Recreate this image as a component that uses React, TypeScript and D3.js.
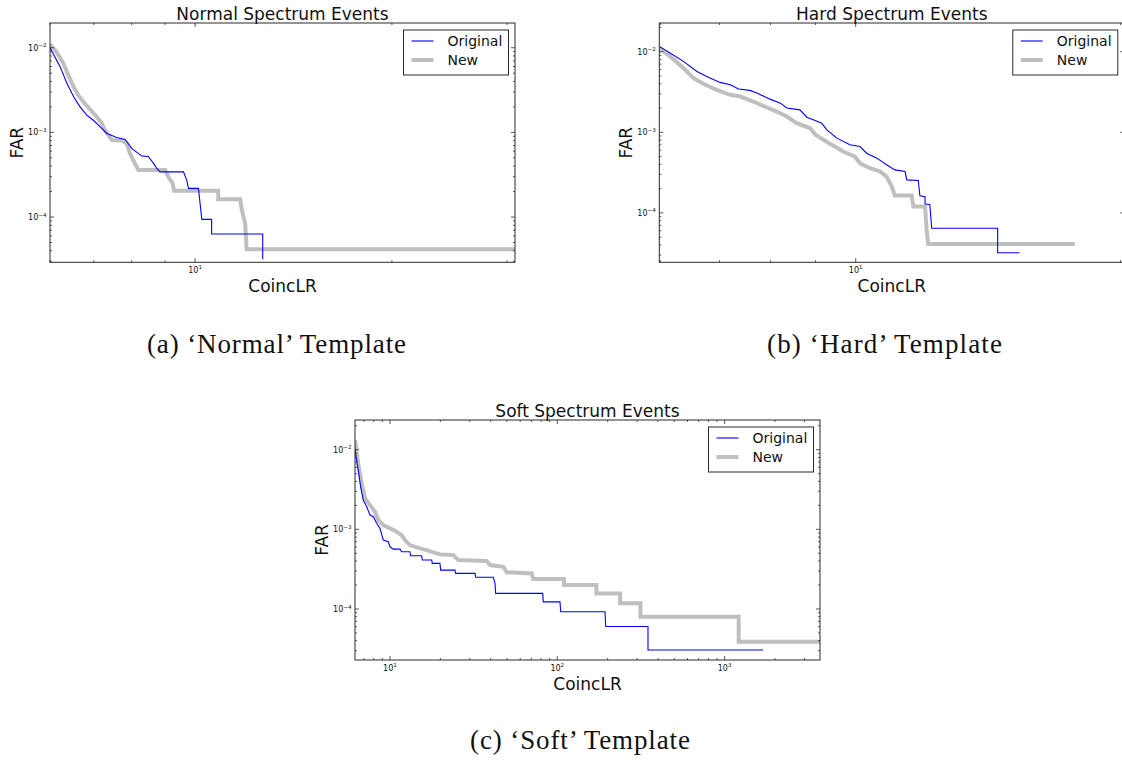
import React from "react";
import * as d3 from "d3";

// ---------- Data (CoincLR threshold vs FAR) ----------
// (a) Normal spectrum
const normalOriginalX = [6.00, 6.22, 6.37, 6.52, 6.67, 6.83, 6.99, 7.16, 7.33, 7.59, 7.82, 8.00, 8.29, 8.48, 8.64, 8.74, 8.84, 9.60, 9.71, 9.77, 10.12, 10.24, 10.60, 10.60, 12.69, 12.69];
const normalOriginalY = [0.0100, 0.00594, 0.00378, 0.00263, 0.00200, 0.00160, 0.00139, 0.00116, 0.000972, 0.000872, 0.000826, 0.000647, 0.000525, 0.000520, 0.000430, 0.000375, 0.000342, 0.000342, 0.000273, 0.000218, 0.000218, 0.0000939, 0.0000939, 0.0000630, 0.0000630, 0.0000317];
const normalNewX = [6.00, 6.14, 6.29, 6.40, 6.52, 6.63, 6.75, 6.91, 7.07, 7.20, 7.28, 7.46, 7.73, 7.86, 7.95, 8.09, 8.19, 9.00, 9.10, 9.24, 9.29, 10.85, 10.85, 11.72, 11.79, 11.93, 11.99, 30.85];
const normalNewY = [0.0110, 0.00892, 0.00651, 0.00474, 0.00345, 0.00275, 0.00229, 0.00187, 0.00153, 0.00128, 0.00106, 0.000811, 0.000800, 0.000741, 0.000564, 0.000430, 0.000359, 0.000359, 0.000299, 0.000250, 0.000204, 0.000204, 0.000162, 0.000162, 0.000121, 0.0000842, 0.0000416, 0.0000416];

// (b) Hard spectrum
const hardOriginalX = [5.98, 6.15, 6.37, 6.60, 6.77, 7.01, 7.20, 7.36, 7.58, 7.72, 7.99, 8.21, 8.35, 8.64, 8.80, 8.95, 9.15, 9.27, 9.52, 9.85, 10.11, 10.29, 10.57, 10.84, 11.08, 11.38, 11.43, 11.78, 11.83, 11.99, 11.99, 12.14, 12.20, 14.50, 14.50, 15.35];
const hardOriginalY = [0.01164, 0.00964, 0.00758, 0.00569, 0.00493, 0.00416, 0.00389, 0.00344, 0.00331, 0.00307, 0.00258, 0.00230, 0.00200, 0.00190, 0.00154, 0.00143, 0.00130, 0.00107, 0.000847, 0.000699, 0.000666, 0.000551, 0.000478, 0.000395, 0.000342, 0.000326, 0.000257, 0.000252, 0.000163, 0.000159, 0.000129, 0.000127, 0.0000646, 0.0000646, 0.0000321, 0.0000321];
const hardNewX = [5.98, 6.15, 6.37, 6.54, 6.71, 6.95, 7.20, 7.39, 7.65, 7.85, 8.13, 8.35, 8.57, 8.87, 9.00, 9.19, 9.39, 9.68, 9.98, 10.11, 10.38, 10.66, 10.84, 10.99, 11.08, 11.58, 11.63, 11.99, 12.04, 12.09, 17.75];
const hardNewY = [0.0111, 0.00874, 0.00627, 0.00471, 0.00400, 0.00337, 0.00292, 0.00278, 0.00241, 0.00213, 0.00181, 0.00157, 0.00130, 0.00113, 0.000931, 0.000807, 0.000699, 0.000577, 0.000500, 0.000414, 0.000359, 0.000326, 0.000282, 0.000212, 0.000164, 0.000164, 0.000120, 0.000120, 0.0000615, 0.0000412, 0.0000412];

// (c) Soft spectrum
const softOriginalX = [6.18, 6.46, 6.68, 6.92, 7.26, 7.60, 7.95, 8.33, 8.71, 9.12, 9.77, 10.0, 10.46, 11.48, 11.75, 13.16, 13.29, 15.47, 15.60, 17.76, 17.90, 19.90, 20.09, 24.46, 24.70, 32.22, 32.53, 41.45, 42.43, 42.84, 81.8, 82.5, 103.8, 104.8, 192.8, 194.7, 348.4, 348.4, 1696];
const softOriginalY = [0.0100, 0.00553, 0.00342, 0.00233, 0.00192, 0.00151, 0.00144, 0.00119, 0.00103, 0.000733, 0.000698, 0.000604, 0.000565, 0.000565, 0.000523, 0.000523, 0.000466, 0.000466, 0.000412, 0.000412, 0.000374, 0.000374, 0.000308, 0.000308, 0.000280, 0.000280, 0.000250, 0.000250, 0.000210, 0.000157, 0.000157, 0.000123, 0.000123, 0.0000925, 0.0000925, 0.0000603, 0.0000603, 0.0000306, 0.0000306];
const softNewX = [6.18, 6.46, 6.77, 7.09, 7.60, 8.14, 8.51, 9.12, 10.0, 10.96, 11.75, 12.29, 13.16, 15.11, 16.57, 17.76, 19.90, 23.89, 25.60, 37.84, 39.61, 47.56, 49.83, 70.3, 71.9, 109.6, 109.6, 171.3, 171.3, 237.4, 237.4, 313.9, 313.9, 1214, 1214, 3716];
const softNewY = [0.01316, 0.00671, 0.00377, 0.00244, 0.00201, 0.00166, 0.00131, 0.00113, 0.00103, 0.000932, 0.000847, 0.000733, 0.000635, 0.000577, 0.000549, 0.000523, 0.000485, 0.000475, 0.000412, 0.000400, 0.000356, 0.000339, 0.000289, 0.000280, 0.000238, 0.000238, 0.000200, 0.000200, 0.000157, 0.000157, 0.000118, 0.000118, 0.0000800, 0.0000800, 0.0000389, 0.0000389];

// Axis domains
const normalXDomain = [6.0, 30.85];
const normalYDomain = [2.92e-5, 0.0196];
const hardXDomain = [5.98, 20.2];
const hardYDomain = [2.44e-5, 0.0227];
const softXDomain = [6.18, 3716];
const softYDomain = [2.29e-5, 0.0236];

const titles = ["Normal Spectrum Events", "Hard Spectrum Events", "Soft Spectrum Events"];
const captions = ["(a) \u2018Normal\u2019 Template", "(b) \u2018Hard\u2019 Template", "(c) \u2018Soft\u2019 Template"];
const seriesNames = ["Original", "New"];
const xLabel = "CoincLR";
const yLabel = "FAR";

const SANS = "'DejaVu Sans', sans-serif";
const SERIF = "'Liberation Serif', 'DejaVu Serif', serif";
const BLUE = "#0000ff";
const GRAY = "#bfbfbf";
const AXC = "#2b2b2b";

type PanelDef = {
  id: string;
  left: number; top: number; width: number; height: number;
  xDomain: number[]; yDomain: number[];
  title: string; caption: string; capX: number; capY: number; capW: number;
  orig: [number[], number[]]; neu: [number[], number[]];
};

function ticksFor(domain: number[]) {
  const [a, b] = domain;
  const out: { v: number; major: boolean; exp: number }[] = [];
  for (let k = Math.floor(Math.log10(a)); k <= Math.ceil(Math.log10(b)); k++) {
    for (let m = 1; m <= 9; m++) {
      const v = m * Math.pow(10, k);
      if (v >= a * 0.9999 && v <= b * 1.0001) out.push({ v, major: m === 1, exp: k });
    }
  }
  return out;
}

function expStr(k: number) {
  return k < 0 ? "\u2212" + String(-k) : String(k);
}

function Panel({ p }: { p: PanelDef }) {
  const x = d3.scaleLog().domain(p.xDomain).range([p.left, p.left + p.width]);
  const y = d3.scaleLog().domain(p.yDomain).range([p.top + p.height, p.top]);
  const line = d3.line<[number, number]>().x((d) => x(d[0])).y((d) => y(d[1])).curve(d3.curveLinear);
  const zip = (xs: number[], ys: number[]) => xs.map((v, i) => [v, ys[i]] as [number, number]);
  const xt = ticksFor(p.xDomain);
  const yt = ticksFor(p.yDomain);
  const L = p.left, T = p.top, R = p.left + p.width, B = p.top + p.height;
  const clipId = "clip-" + p.id;
  const lgR = R - 6.5, lgT = T + 7, lgW = 105, lgH = 45, lgL = lgR - lgW;
  return (
    <g>
      <defs>
        <clipPath id={clipId}>
          <rect x={L} y={T} width={p.width} height={p.height} />
        </clipPath>
      </defs>
      <rect x={L} y={T} width={p.width} height={p.height} fill="#fff" />
      <g clipPath={`url(#${clipId})`}>
        <path d={line(zip(p.neu[0], p.neu[1])) || ""} fill="none" stroke={GRAY} strokeWidth={4} strokeLinejoin="miter" />
        <path d={line(zip(p.orig[0], p.orig[1])) || ""} fill="none" stroke={BLUE} strokeWidth={1.1} />
      </g>
      {/* ticks */}
      {xt.map((t, i) => {
        const px = x(t.v);
        const len = t.major ? 4 : 2;
        return (
          <g key={"xt" + i}>
            <line x1={px} x2={px} y1={B} y2={B - len} stroke={AXC} strokeWidth={0.8} />
            <line x1={px} x2={px} y1={T} y2={T + len} stroke={AXC} strokeWidth={0.8} />
            {t.major && (
              <text x={px} y={B + 10.5} textAnchor="middle" fontFamily={SANS} fontSize={8} fill="#111">
                <tspan>10</tspan>
                <tspan dy={-3.5} fontSize={5.6}>{expStr(t.exp)}</tspan>
              </text>
            )}
          </g>
        );
      })}
      {yt.map((t, i) => {
        const py = y(t.v);
        const len = t.major ? 4 : 2;
        return (
          <g key={"yt" + i}>
            <line x1={L} x2={L + len} y1={py} y2={py} stroke={AXC} strokeWidth={0.8} />
            <line x1={R} x2={R - len} y1={py} y2={py} stroke={AXC} strokeWidth={0.8} />
            {t.major && (
              <text x={L - 3.5} y={py + 3} textAnchor="end" fontFamily={SANS} fontSize={8} fill="#111">
                <tspan>10</tspan>
                <tspan dy={-3.5} fontSize={5.6}>{expStr(t.exp)}</tspan>
              </text>
            )}
          </g>
        );
      })}
      <rect x={L} y={T} width={p.width} height={p.height} fill="none" stroke={AXC} strokeWidth={1} />
      {/* legend */}
      <rect x={lgL} y={lgT} width={lgW} height={lgH} fill="#fff" stroke={AXC} strokeWidth={1} />
      <line x1={lgL + 8} x2={lgL + 30} y1={lgT + 11} y2={lgT + 11} stroke={BLUE} strokeWidth={1.1} />
      <text x={lgL + 44} y={lgT + 16} fontFamily={SANS} fontSize={14} fill="#111">{seriesNames[0]}</text>
      <line x1={lgL + 8} x2={lgL + 30} y1={lgT + 30} y2={lgT + 30} stroke={GRAY} strokeWidth={4} />
      <text x={lgL + 44} y={lgT + 35} fontFamily={SANS} fontSize={14} fill="#111">{seriesNames[1]}</text>
      {/* labels */}
      <text x={(L + R) / 2} y={T - 3.5} textAnchor="middle" fontFamily={SANS} fontSize={17} fill="#111">{p.title}</text>
      <text x={(L + R) / 2} y={B + 29.5} textAnchor="middle" fontFamily={SANS} fontSize={17} fill="#111">{xLabel}</text>
      <text transform={`translate(${L - 27},${(T + B) / 2}) rotate(-90)`} textAnchor="middle" fontFamily={SANS} fontSize={17} fill="#111">{yLabel}</text>
      <text x={p.capX} y={p.capY} textAnchor="middle" fontFamily={SERIF} fontSize={27} fill="#111" textLength={p.capW} lengthAdjust="spacing">{p.caption}</text>
    </g>
  );
}

export default function App() {
  const panels: PanelDef[] = [
    { id: "a", left: 50, top: 23, width: 465, height: 239.3, xDomain: normalXDomain, yDomain: normalYDomain, title: titles[0], caption: captions[0], capX: 276.5, capY: 352.5, capW: 259, orig: [normalOriginalX, normalOriginalY], neu: [normalNewX, normalNewY] },
    { id: "b", left: 659.3, top: 23, width: 465, height: 239.3, xDomain: hardXDomain, yDomain: hardYDomain, title: titles[1], caption: captions[1], capX: 884.5, capY: 352.5, capW: 235, orig: [hardOriginalX, hardOriginalY], neu: [hardNewX, hardNewY] },
    { id: "c", left: 355, top: 420, width: 465, height: 240, xDomain: softXDomain, yDomain: softYDomain, title: titles[2], caption: captions[2], capX: 580, capY: 749, capW: 220, orig: [softOriginalX, softOriginalY], neu: [softNewX, softNewY] },
  ];
  return (
    <svg width={1122} height={763} viewBox="0 0 1122 763" style={{ position: "absolute", left: 0, top: 0, background: "#fff" }}>
      <rect x={0} y={0} width={1122} height={763} fill="#fff" />
      {panels.map((p) => (
        <Panel key={p.id} p={p} />
      ))}
    </svg>
  );
}
